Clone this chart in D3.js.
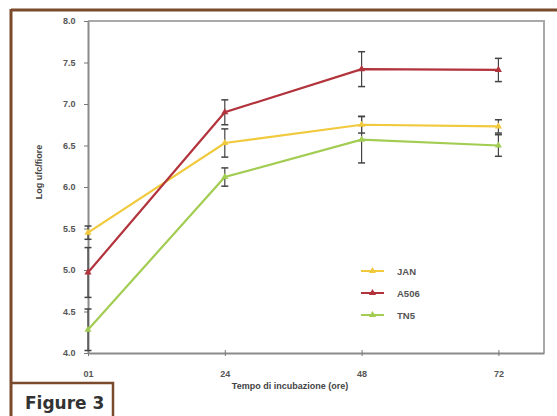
<!DOCTYPE html>
<html>
<head>
<meta charset="utf-8">
<script src="https://cdn.jsdelivr.net/npm/d3@7"></script>
<style>
  html, body { margin: 0; padding: 0; background: #fff; }
  svg { display: block; }
</style>
</head>
<body>
<svg id="chart" width="557" height="416"></svg>
<script>
// Incubation times (hours) and tick labels
const hours = [0, 24, 48, 72];
const xTickLabels = ["01", "24", "48", "72"];
const yTicks = [4.0, 4.5, 5.0, 5.5, 6.0, 6.5, 7.0, 7.5, 8.0];

// Series: mean log cfu/flower and error (±)
const seriesNames = ["JAN", "A506", "TN5"];
const seriesColors = ["#f0c93c", "#b2333c", "#a2cc52"];
const janValues  = [5.45, 6.53, 6.75, 6.73];
const janErr     = [0.08, 0.17, 0.10, 0.08];
const a506Values = [4.97, 6.90, 7.42, 7.41];
const a506Err    = [0.30, 0.15, 0.21, 0.14];
const tn5Values  = [4.28, 6.12, 6.57, 6.50];
const tn5Err     = [0.25, 0.11, 0.28, 0.13];

const series = [
  { name: seriesNames[0], color: seriesColors[0], values: janValues,  err: janErr },
  { name: seriesNames[1], color: seriesColors[1], values: a506Values, err: a506Err },
  { name: seriesNames[2], color: seriesColors[2], values: tn5Values,  err: tn5Err }
];

const svg = d3.select("#chart");
const brown = "#7b4a2c";

// Outer page frame
svg.append("line").attr("x1", 11).attr("y1", 10).attr("x2", 557).attr("y2", 10)
  .attr("stroke", brown).attr("stroke-width", 3);
svg.append("line").attr("x1", 11).attr("y1", 9).attr("x2", 11).attr("y2", 416)
  .attr("stroke", brown).attr("stroke-width", 3);

// Plot area
const plotLeft = 88, plotRight = 544, plotTop = 21, plotBottom = 353;
const x = d3.scaleLinear().domain([0, 80]).range([plotLeft, plotRight]);
const y = d3.scaleLinear().domain([4, 8]).range([plotBottom, plotTop]);

// Plot box (top and right edges)
svg.append("path")
  .attr("d", `M${plotLeft},${plotTop}H${plotRight}V${plotBottom}`)
  .attr("fill", "none").attr("stroke", "#a9a9a9").attr("stroke-width", 2);

// Axes
const xAxis = d3.axisBottom(x).tickValues(hours)
  .tickFormat((d, i) => xTickLabels[i]).tickSize(4).tickSizeOuter(0);
const yAxis = d3.axisLeft(y).tickValues(yTicks)
  .tickFormat(d3.format(".1f")).tickSize(4).tickSizeOuter(0);

const gx = svg.append("g").attr("transform", `translate(0,${plotBottom})`).call(xAxis);
const gy = svg.append("g").attr("transform", `translate(${plotLeft},0)`).call(yAxis);

[gx, gy].forEach(g => {
  g.select(".domain").attr("stroke", "#8a8a8a").attr("stroke-width", 2);
  g.selectAll(".tick line").attr("stroke", "#777").attr("stroke-width", 1);
  g.selectAll(".tick text")
    .attr("fill", "#555").attr("font-family", "Liberation Sans, Arial, sans-serif")
    .attr("font-size", 9).attr("font-weight", "bold");
});
gx.selectAll(".tick line").attr("y1", -3).attr("y2", 3);
gx.selectAll(".tick text").attr("dy", "1.9em");
gy.selectAll(".tick text").attr("dx", "-0.6em");

// Axis titles
svg.append("text")
  .attr("x", 290).attr("y", 389).attr("text-anchor", "middle")
  .attr("font-family", "Liberation Sans, Arial, sans-serif").attr("font-size", 9)
  .attr("font-weight", "bold").attr("fill", "#444")
  .text("Tempo di incubazione (ore)");
svg.append("text")
  .attr("transform", "translate(42,172) rotate(-90)").attr("text-anchor", "middle")
  .attr("font-family", "Liberation Sans, Arial, sans-serif").attr("font-size", 9)
  .attr("font-weight", "bold").attr("fill", "#444")
  .text("Log ufc/fiore");

// Lines
const line = d3.line().x((d, i) => x(hours[i])).y(d => y(d));
const gSeries = svg.append("g");
series.forEach(s => {
  gSeries.append("path").datum(s.values)
    .attr("d", line).attr("fill", "none")
    .attr("stroke", s.color).attr("stroke-width", 2.2);
});

// Error bars
series.forEach(s => {
  const g = gSeries.append("g");
  s.values.forEach((v, i) => {
    const cx = x(hours[i]);
    g.append("line").attr("x1", cx).attr("x2", cx)
      .attr("y1", y(v - s.err[i])).attr("y2", y(v + s.err[i]))
      .attr("stroke", "#444").attr("stroke-width", 1.2);
    [v - s.err[i], v + s.err[i]].forEach(e => {
      g.append("line").attr("x1", cx - 3.5).attr("x2", cx + 3.5)
        .attr("y1", y(e)).attr("y2", y(e))
        .attr("stroke", "#444").attr("stroke-width", 1.5);
    });
  });
});

// Markers
const marker = d3.symbol().type(d3.symbolTriangle).size(22);
series.forEach(s => {
  gSeries.selectAll(null).data(s.values).enter().append("path")
    .attr("d", marker)
    .attr("transform", (d, i) => `translate(${x(hours[i])},${y(d)})`)
    .attr("fill", s.color);
});

// Legend
const legend = svg.append("g");
series.forEach((s, i) => {
  const ly = 271 + i * 22;
  legend.append("line").attr("x1", 361).attr("x2", 384)
    .attr("y1", ly).attr("y2", ly).attr("stroke", s.color).attr("stroke-width", 2);
  legend.append("path").attr("d", marker)
    .attr("transform", `translate(372.5,${ly})`).attr("fill", s.color);
  legend.append("text").attr("x", 397).attr("y", ly + 3.5)
    .attr("font-family", "Liberation Sans, Arial, sans-serif").attr("font-size", 9.5)
    .attr("font-weight", "bold").attr("fill", "#555").text(s.name);
});

// Figure label box
svg.append("path")
  .attr("d", "M11,383H113V416")
  .attr("fill", "none").attr("stroke", brown).attr("stroke-width", 2.5);
svg.append("text").attr("x", 25).attr("y", 409)
  .attr("font-family", "DejaVu Sans, sans-serif").attr("font-size", 17)
  .attr("font-weight", "bold").attr("fill", "#333").text("Figure 3");
</script>
</body>
</html>
